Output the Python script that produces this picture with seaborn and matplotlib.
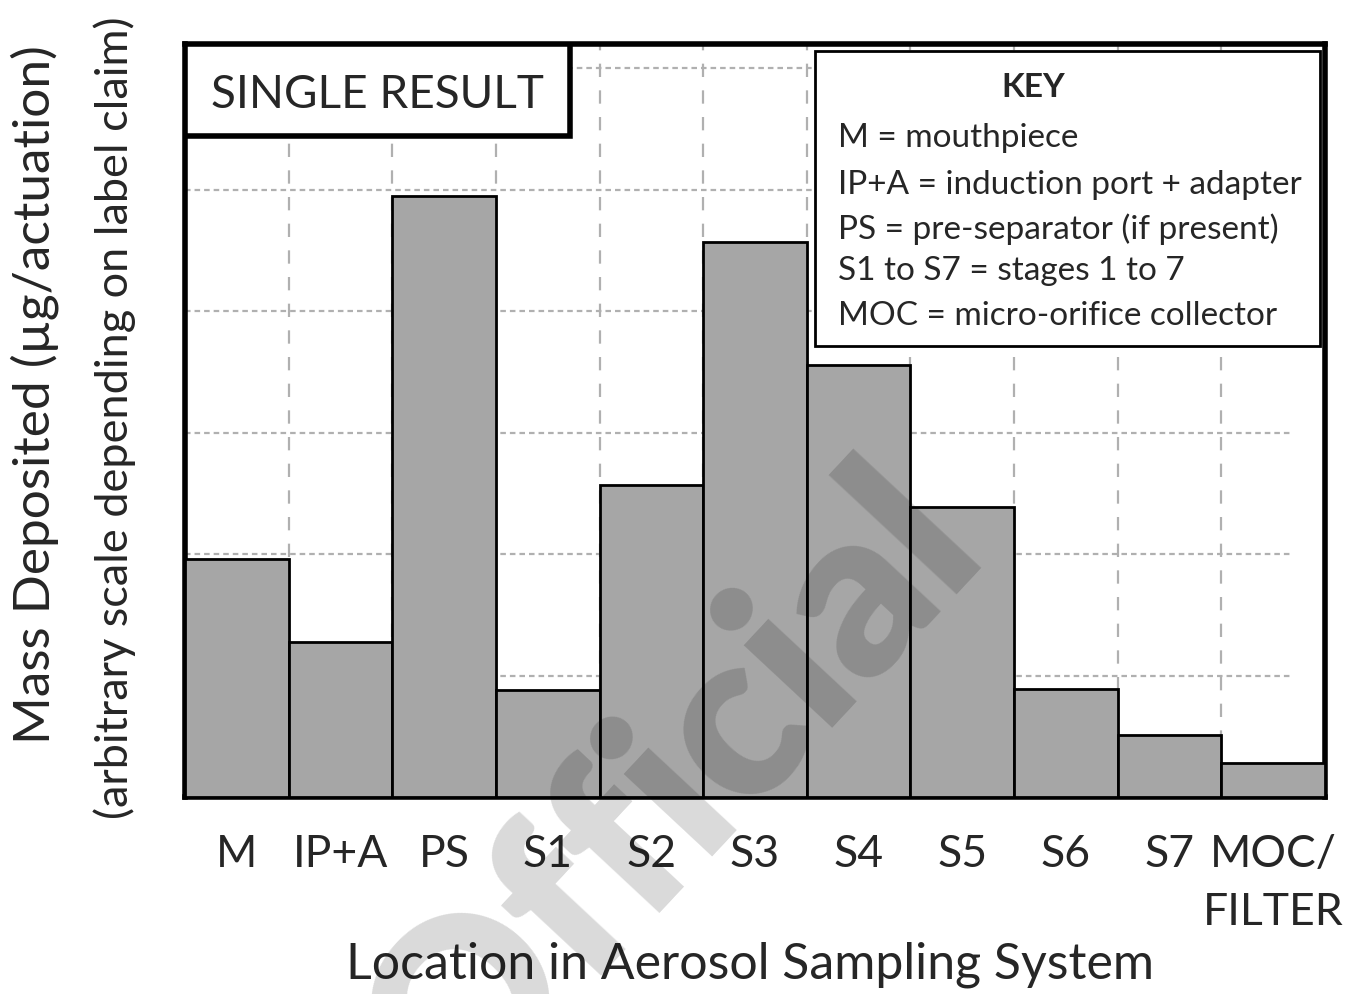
import numpy as np
import pandas as pd
import matplotlib.pyplot as plt
from matplotlib.patches import Rectangle
import seaborn as sns

# data (arbitrary units, one grid step = 1)
locations = ['M', 'IP+A', 'PS', 'S1', 'S2', 'S3', 'S4', 'S5', 'S6', 'S7', 'MOC/\nFILTER']
mass = [1.96, 1.28, 4.95, 0.88, 2.57, 4.57, 3.56, 2.39, 0.89, 0.51, 0.28]
grid_levels = [1, 2, 3, 4, 5, 6]
key_lines = ['M = mouthpiece',
             'IP+A = induction port + adapter',
             'PS = pre-separator (if present)',
             'S1 to S7 = stages 1 to 7',
             'MOC = micro-orifice collector']

sns.set_style('white')
plt.rcParams['font.family'] = ['Lato', 'DejaVu Sans']

df = pd.DataFrame({'location': locations, 'mass': mass})

fig = plt.figure(figsize=(13.51, 9.95), dpi=100)
ax = fig.add_axes([185 / 1351, 1 - 798 / 995, 1140 / 1351, 753 / 995])

sns.barplot(data=df, x='location', y='mass', color='#a6a6a6', saturation=1,
            width=1, edgecolor='black', linewidth=2, ax=ax, zorder=3)

# dashed grid
for y in grid_levels:
    ax.axhline(y, xmin=0, xmax=0.969, color='#b0b0b0', lw=1.6,
               ls=(0, (2.5, 1.8)), zorder=1)
for x in np.arange(0.5, len(locations) - 1):
    ax.axvline(x, color='#b0b0b0', lw=1.6, ls=(0, (6, 6)), zorder=1)

ax.set_xlim(-0.5, len(locations) - 0.5)
ax.set_ylim(0, 6.2)
ax.set_yticks([])
ax.set_xlabel('')
ax.set_ylabel('')
ax.tick_params(axis='x', length=0, pad=26, labelsize=32)
for lbl in ax.get_xticklabels():
    lbl.set_linespacing(1.5)
for s in ax.spines.values():
    s.set_visible(True)
    s.set_color('black')
    s.set_linewidth(4)

# SINGLE RESULT box
ax.add_patch(Rectangle((0, 0.878), 0.338, 0.122, transform=ax.transAxes,
                       fc='white', ec='black', lw=4, zorder=6))
ax.text(0.023, 0.934, 'SINGLE RESULT', transform=ax.transAxes, fontsize=33,
        va='center', ha='left', zorder=7)

# KEY box
ax.add_patch(Rectangle((0.553, 0.599), 0.4426, 0.392, transform=ax.transAxes,
                       fc='white', ec='black', lw=2, zorder=6))
ax.text(0.744, 0.943, 'KEY', transform=ax.transAxes, fontsize=24,
        fontweight='bold', va='center', ha='center', zorder=7)
key_y = [0.8765, 0.814, 0.7556, 0.6999, 0.640]
for ky, line in zip(key_y, key_lines):
    ax.text(0.573, ky, line, transform=ax.transAxes, fontsize=24,
            va='center', ha='left', zorder=7)

# axis titles
fig.text(750 / 1351, 1 - 965 / 995, 'Location in Aerosol Sampling System',
         fontsize=36, ha='center', va='center')
fig.text(35 / 1351, 1 - 395 / 995, 'Mass Deposited (µg/actuation)',
         fontsize=37, rotation=90, ha='center', va='center')
fig.text(115 / 1351, 1 - 418 / 995, '(arbitrary scale depending on label claim)',
         fontsize=32.5, rotation=90, ha='center', va='center')

# watermark
fig.text(672 / 1351, 1 - 792 / 995, 'Official', fontsize=168, fontweight='heavy',
         rotation=47, color='black', alpha=0.15, ha='center', va='center',
         zorder=20)

fig.savefig('out.png', dpi=100)
